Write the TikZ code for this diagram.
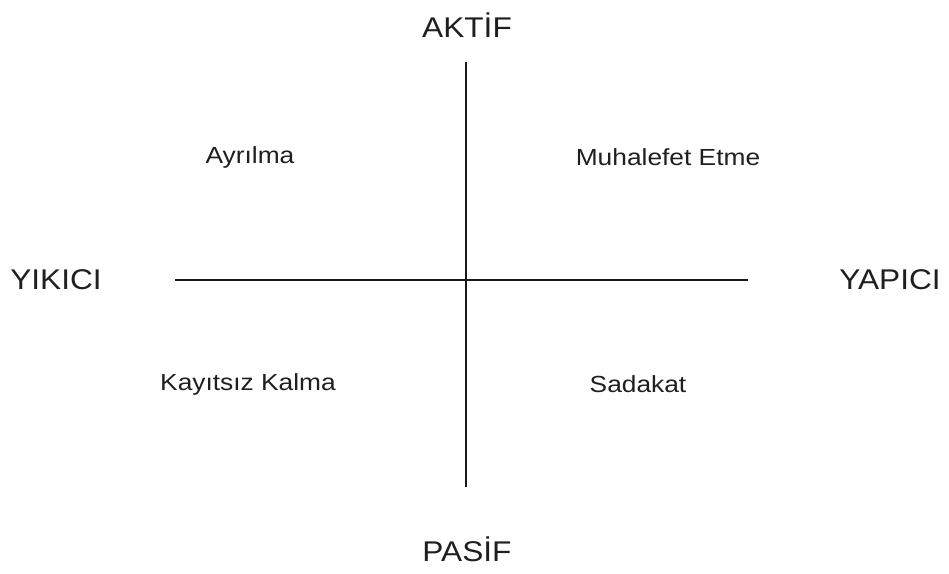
\documentclass[tikz,border=0pt]{standalone}
\usepackage{graphicx}
\usepackage{fontspec}
\setmainfont{Liberation Sans}
% slightly widened lettering
\newcommand\widetext[2]{\scalebox{#1}[1]{#2}}
\begin{document}
\begin{tikzpicture}[x=1pt,y=-1pt,
  axislabel/.style={font=\fontsize{28.5}{32}\selectfont, text=black!88, inner sep=0pt},
  quadlabel/.style={font=\fontsize{23.3}{26}\selectfont, text=black!88, inner sep=0pt},
  axisline/.style={line width=1.6pt, black!90}]
\useasboundingbox (0,0) rectangle (949,573);
% axes
\coordinate (top) at (466,62);
\coordinate (bottom) at (466,487);
\coordinate (left) at (175,280);
\coordinate (right) at (748,280);
\draw[axisline] (top) -- (bottom);
\draw[axisline] (left) -- (right);
% axis labels
\node[axislabel] (aktif) at (467,25) {\widetext{1.11}{AKTİF}};
\node[axislabel] (pasif) at (467,549) {\widetext{1.11}{PASİF}};
\node[axislabel] (yikici) at (56,280) {\widetext{1.11}{YIKICI}};
\node[axislabel] (yapici) at (890,280) {\widetext{1.11}{YAPICI}};
% quadrant labels
\node[quadlabel] (ayrilma) at (250,157) {\widetext{1.13}{Ayrılma}};
\node[quadlabel] (muhalefet) at (668,157) {\widetext{1.13}{Muhalefet Etme}};
\node[quadlabel] (kayitsiz) at (248,384) {\widetext{1.13}{Kayıtsız Kalma}};
\node[quadlabel] (sadakat) at (638,384) {\widetext{1.13}{Sadakat}};
\end{tikzpicture}
\end{document}
